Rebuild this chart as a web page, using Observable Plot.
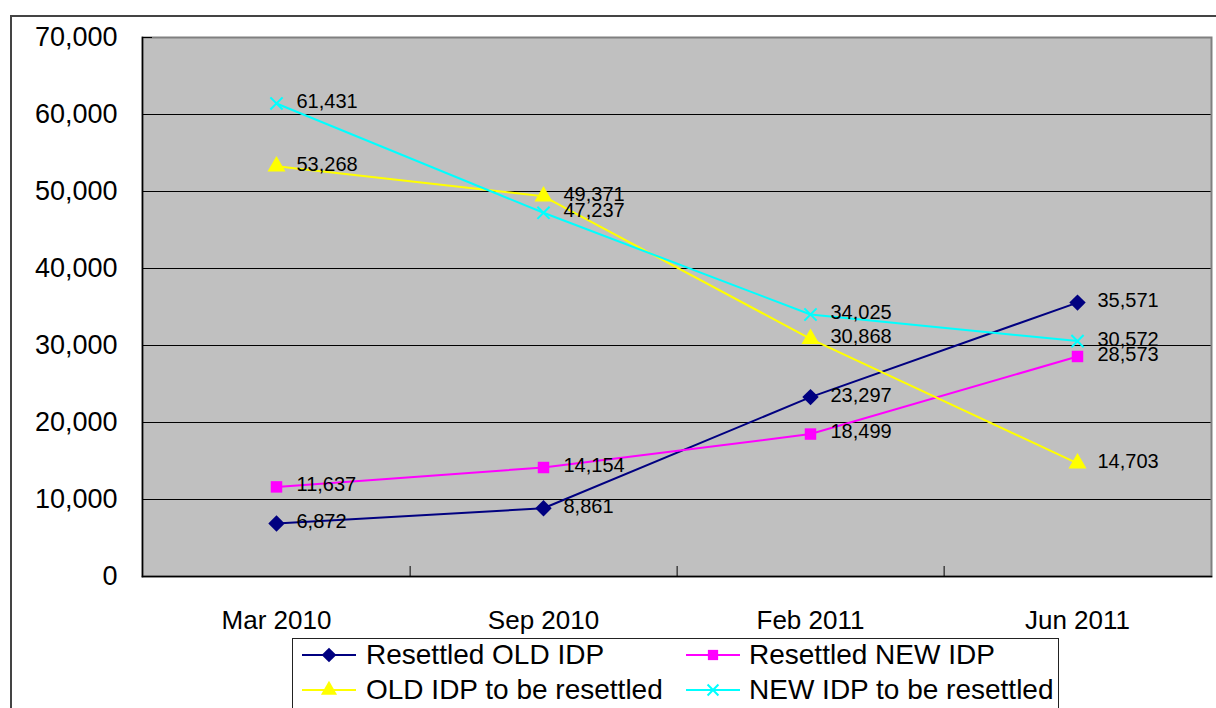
<!DOCTYPE html>
<html>
<head>
<meta charset="utf-8">
<script src="https://cdn.jsdelivr.net/npm/d3@7"></script>
<script src="https://cdn.jsdelivr.net/npm/@observablehq/plot@0.6"></script>
<style>
  html, body { margin: 0; padding: 0; background: #fff; overflow: hidden; }
  body { width: 1216px; height: 708px; position: relative; font-family: "Liberation Sans", Arial, sans-serif; }
  #frame { position: absolute; left: 10px; top: 15px; width: 1300px; height: 800px; border: 2px solid #444; box-sizing: border-box; }
  #chart { position: absolute; left: 0; top: 0; }
  #legend { position: absolute; left: 292px; top: 638px; width: 767px; height: 110px; border: 1px solid #222; background: #fff; box-sizing: border-box; }
  .item { position: absolute; height: 28px; line-height: 28px; font-size: 28px; white-space: nowrap; color: #000; }
  .item svg { position: absolute; left: 0; top: 0; }
  .item span { position: absolute; top: 0; }
</style>
</head>
<body>
<div id="frame"></div>
<div id="chart"></div>
<div id="legend"></div>
<script>
// Survey rounds
const months = ["Mar 2010", "Sep 2010", "Feb 2011", "Jun 2011"];

// Series values per round
const resettledOld = [6872, 8861, 23297, 35571];
const resettledNew = [11637, 14154, 18499, 28573];
const oldToResettle = [53268, 49371, 30868, 14703];
const newToResettle = [61431, 47237, 34025, 30572];

const seriesNames = [
  "Resettled OLD IDP",
  "Resettled NEW IDP",
  "OLD IDP to be resettled",
  "NEW IDP to be resettled"
];

const yTicks = [0, 10000, 20000, 30000, 40000, 50000, 60000, 70000];

const series = [
  {name: seriesNames[0], values: resettledOld,  color: "#000080", symbol: "diamond2",  d3sym: d3.symbolDiamond2,  r: 7.4, fill: "#000080", stroke: "none"},
  {name: seriesNames[1], values: resettledNew,  color: "#ff00ff", symbol: "square2",   d3sym: d3.symbolSquare2,   r: 7.3, fill: "#ff00ff", stroke: "none"},
  {name: seriesNames[2], values: oldToResettle, color: "#ffff00", symbol: "triangle2", d3sym: d3.symbolTriangle2, r: 8.6, fill: "#ffff00", stroke: "none"},
  {name: seriesNames[3], values: newToResettle, color: "#00ffff", symbol: "times",     d3sym: d3.symbolTimes,     r: 5.6, fill: "none",    stroke: "#00ffff"}
];

const rows = series.flatMap(s => months.map((m, i) => ({series: s.name, month: m, value: s.values[i]})));
const fmt = d3.format(",");

const W = 1216, H = 636;
const marginLeft = 142, marginRight = 5, marginTop = 37, marginBottom = H - 576;
const halfStep = (W - marginLeft - marginRight) / months.length / 2;

const seriesMarks = series.flatMap(s => {
  const data = rows.filter(d => d.series === s.name);
  return [
    Plot.line(data, {x: "month", y: "value", stroke: s.color, strokeWidth: 2}),
    Plot.dot(data, {x: "month", y: "value", symbol: s.symbol, r: s.r, fill: s.fill, stroke: s.stroke, strokeWidth: 2})
  ];
});

const chart = Plot.plot({
  width: W,
  height: H,
  marginLeft, marginRight, marginTop, marginBottom,
  style: {fontFamily: "'Liberation Sans', Arial, sans-serif", background: "transparent", color: "#000", overflow: "visible"},
  x: {type: "point", domain: months, padding: 0.5, label: null},
  y: {domain: [0, 70000], label: null},
  marks: [
    Plot.frame({fill: "#c0c0c0"}),
    Plot.gridY(yTicks.slice(1, -1), {stroke: "#000", strokeOpacity: 1}),
    Plot.frame({stroke: "#808080", strokeWidth: 2}),
    Plot.frame({anchor: "left", stroke: "#000", strokeWidth: 1.5}),
    Plot.frame({anchor: "bottom", stroke: "#000", strokeWidth: 1.5}),
    Plot.axisY(yTicks, {tickSize: 0, tickPadding: 25, tickFormat: fmt, fontSize: 27, label: null}),
    Plot.axisY(yTicks, {tickSize: 10, dx: 10, text: null, label: null}),
    Plot.axisX(months, {tickSize: 0, tickPadding: 34, fontSize: 26, label: null}),
    Plot.axisX(months.slice(0, -1), {tickSize: 10, dy: -10, dx: halfStep, text: null, label: null}),
    ...seriesMarks,
    Plot.text(rows, {x: "month", y: "value", text: d => fmt(d.value), dx: 20, dy: -2, textAnchor: "start", fontSize: 20, fill: "#000"})
  ]
});
document.getElementById("chart").appendChild(chart);

// Legend: two columns, two rows
const legend = document.getElementById("legend");
series.forEach((s, i) => {
  const col = i % 2, row = Math.floor(i / 2);
  const item = document.createElement("div");
  item.className = "item";
  item.style.left = (col ? 393 : 9) + "px";
  item.style.top = (row ? 37.3 : 2.3) + "px";
  const svg = d3.create("svg").attr("width", 56).attr("height", 28);
  svg.append("line").attr("x1", 0).attr("x2", 54).attr("y1", 14).attr("y2", 14)
    .attr("stroke", s.color).attr("stroke-width", 2);
  svg.append("path")
    .attr("transform", "translate(27,14)")
    .attr("d", d3.symbol(s.d3sym, Math.PI * s.r * s.r * 0.8)())
    .attr("fill", s.fill).attr("stroke", s.stroke).attr("stroke-width", 2);
  item.appendChild(svg.node());
  const span = document.createElement("span");
  span.style.left = (col ? 63 : 64) + "px";
  span.textContent = s.name;
  item.appendChild(span);
  legend.appendChild(item);
});
</script>
</body>
</html>
